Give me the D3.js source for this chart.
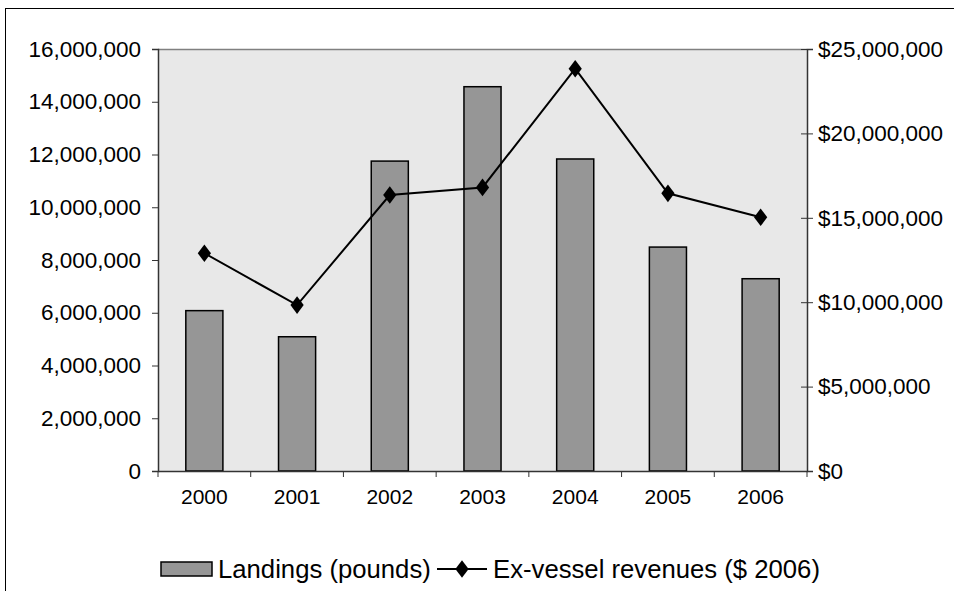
<!DOCTYPE html>
<html>
<head>
<meta charset="utf-8">
<script src="https://cdn.jsdelivr.net/npm/d3@7/dist/d3.min.js"></script>
<style>
  html, body { margin: 0; padding: 0; background: #fff; }
  svg text { font-family: "Liberation Sans", Arial, sans-serif; fill: #000; }
</style>
</head>
<body>
<svg id="chart" width="954" height="591"></svg>
<script>
const years = ["2000", "2001", "2002", "2003", "2004", "2005", "2006"];
const landings = [6080000, 5090000, 11750000, 14570000, 11830000, 8490000, 7290000];
const revenues = [12900000, 9830000, 16350000, 16800000, 23830000, 16450000, 15030000];
const leftTicks = [0, 2000000, 4000000, 6000000, 8000000, 10000000, 12000000, 14000000, 16000000];
const rightTicks = [0, 5000000, 10000000, 15000000, 20000000, 25000000];
const seriesNames = ["Landings (pounds)", "Ex-vessel revenues ($ 2006)"];

const m = { left: 158, right: 807, top: 49, bottom: 471 };
const svg = d3.select("#chart");
const fsY = 22.5, fsX = 21, fsLeg = 25.7;

// outer border
svg.append("rect").attr("x", 5.5).attr("y", 8.5).attr("width", 960).attr("height", 600)
  .attr("fill", "none").attr("stroke", "#000").attr("stroke-width", 1);

const x = d3.scaleBand().domain(years).range([m.left, m.right]).paddingInner(0).paddingOuter(0);
const yL = d3.scaleLinear().domain([0, 16000000]).range([m.bottom, m.top]);
const yR = d3.scaleLinear().domain([0, 25000000]).range([m.bottom, m.top]);

// plot background
svg.append("rect").attr("x", m.left).attr("y", m.top)
  .attr("width", m.right - m.left).attr("height", m.bottom - m.top)
  .attr("fill", "#e8e8e8");
svg.append("line").attr("x1", m.left).attr("x2", m.right).attr("y1", m.top + 0.5).attr("y2", m.top + 0.5)
  .attr("stroke", "#808080").attr("stroke-width", 1.5);

// bars
const bw = x.bandwidth() * 0.4;
svg.append("g").selectAll("rect").data(years).join("rect")
  .attr("x", (d) => x(d) + (x.bandwidth() - bw) / 2)
  .attr("y", (d, i) => yL(landings[i]))
  .attr("width", bw)
  .attr("height", (d, i) => m.bottom - yL(landings[i]))
  .attr("fill", "#969696").attr("stroke", "#000").attr("stroke-width", 1.5);

// left axis
const fmt = d3.format(",");
const gL = svg.append("g").attr("transform", `translate(${m.left},0)`)
  .call(d3.axisLeft(yL).tickValues(leftTicks).tickFormat(fmt).tickSize(6).tickPadding(11));
gL.select(".domain").attr("stroke", "#333").attr("stroke-width", 1.5);
gL.selectAll(".tick line").attr("stroke", "#333");
gL.selectAll("text").attr("font-size", fsY).style("font-family", "Liberation Sans, Arial, sans-serif");

// right axis
const gR = svg.append("g").attr("transform", `translate(${m.right},0)`)
  .call(d3.axisRight(yR).tickValues(rightTicks).tickFormat((d) => "$" + fmt(d)).tickSize(6).tickPadding(5));
gR.select(".domain").attr("stroke", "#333").attr("stroke-width", 1.5);
gR.selectAll(".tick line").attr("stroke", "#333").attr("x1", -6);
gR.selectAll("text").attr("font-size", fsY).style("font-family", "Liberation Sans, Arial, sans-serif");

// bottom axis
const gB = svg.append("g").attr("transform", `translate(0,${m.bottom})`)
  .call(d3.axisBottom(x).tickSize(0).tickPadding(18));
gB.select(".domain").attr("stroke", "#333").attr("stroke-width", 1.5);
gB.selectAll("text").attr("font-size", fsX).style("font-family", "Liberation Sans, Arial, sans-serif");
const bounds = years.map((d) => x(d)).concat([m.right]);
svg.append("g").selectAll("line").data(bounds).join("line")
  .attr("x1", (d) => d).attr("x2", (d) => d)
  .attr("y1", m.bottom).attr("y2", m.bottom + 6)
  .attr("stroke", "#333").attr("stroke-width", 1);

// line series
const cx = (d) => x(d) + x.bandwidth() / 2;
const line = d3.line().x((d, i) => cx(years[i])).y((d) => yR(d));
svg.append("path").datum(revenues).attr("d", line)
  .attr("fill", "none").attr("stroke", "#000").attr("stroke-width", 2);
const diamond = d3.symbol().type(d3.symbolDiamond).size(90);
svg.append("g").selectAll("path").data(revenues).join("path")
  .attr("d", diamond)
  .attr("transform", (d, i) => `translate(${cx(years[i])},${yR(d)}) scale(1.3,1)`)
  .attr("fill", "#000");

// legend
const ly = 569;
const lg = svg.append("g");
lg.append("rect").attr("x", 161).attr("y", ly - 7).attr("width", 51).attr("height", 14)
  .attr("fill", "#969696").attr("stroke", "#000").attr("stroke-width", 1.5);
lg.append("text").attr("x", 218).attr("y", ly).attr("dy", "0.35em").attr("font-size", fsLeg)
  .text(seriesNames[0]);
lg.append("line").attr("x1", 437).attr("x2", 487).attr("y1", ly).attr("y2", ly)
  .attr("stroke", "#000").attr("stroke-width", 2);
lg.append("path").attr("d", diamond).attr("transform", `translate(462,${ly}) scale(1.3,1)`).attr("fill", "#000");
lg.append("text").attr("x", 493).attr("y", ly).attr("dy", "0.35em").attr("font-size", fsLeg)
  .text(seriesNames[1]);
</script>
</body>
</html>
